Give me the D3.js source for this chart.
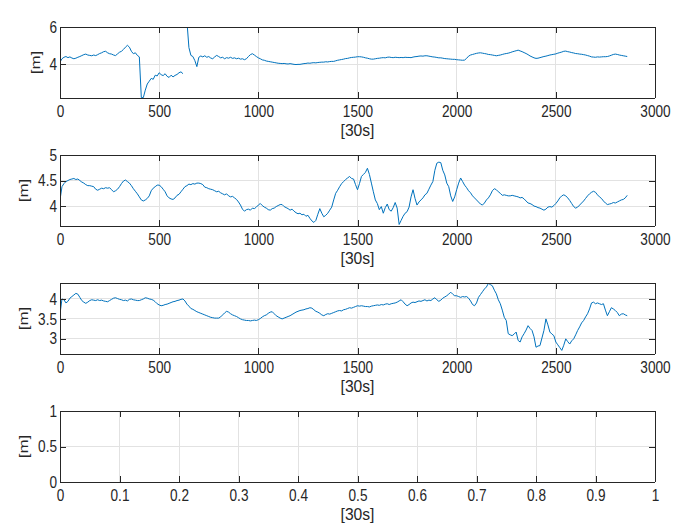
<!DOCTYPE html>
<html><head><meta charset="utf-8">
<script src="https://cdn.jsdelivr.net/npm/d3@7"></script>
<style>
body{margin:0;background:#fff}
svg{display:block}
text{font-family:"Liberation Sans",Arial,Helvetica,sans-serif;fill:#262626}
</style></head><body>
<svg id="c" width="679" height="532"></svg>
<script>
// ---------------- data ----------------
const xStep = 10; // sample spacing, in [30s] units
// panel 1 (rows of 10 samples = 100 units)
const series1 = [
 4.12,4.30,4.38,4.42,4.36,4.40,4.34,4.30,4.33,4.38,
 4.42,4.47,4.52,4.55,4.50,4.48,4.46,4.50,4.47,4.52,
 4.58,4.62,4.68,4.70,4.62,4.57,4.55,4.50,4.47,4.56,
 4.65,4.70,4.80,4.92,5.02,4.92,4.70,4.57,4.62,4.48,
 4.40,2.22,2.22,2.62,2.95,3.10,3.25,3.20,3.42,3.38,
 3.55,3.45,3.40,3.50,3.36,3.30,3.42,3.33,3.41,3.46,
 3.55,3.60,3.50,null,6.30,4.90,4.48,4.42,4.20,3.88,
 4.38,4.45,4.40,4.46,4.38,4.42,4.34,4.30,4.40,4.48,
 4.42,4.35,4.38,4.30,4.36,4.33,4.38,4.32,4.35,4.30,
 4.33,4.28,4.30,4.25,4.30,4.42,4.52,4.57,4.50,4.42,
 4.35,4.30,4.24,4.22,4.18,4.16,4.14,4.12,4.10,4.08,
 4.06,4.05,4.04,4.05,4.03,4.02,4.04,4.02,4.00,3.99,
 4.00,4.00,4.02,4.04,4.05,4.07,4.06,4.08,4.09,4.08,
 4.10,4.11,4.12,4.12,4.14,4.13,4.15,4.16,4.16,4.19,
 4.22,4.24,4.26,4.28,4.31,4.32,4.35,4.37,4.38,4.39,
 4.41,4.41,4.40,4.38,4.35,4.33,4.30,4.28,4.28,4.30,
 4.32,4.33,4.35,4.36,4.35,4.38,4.39,4.37,4.36,4.38,
 4.37,4.36,4.37,4.36,4.38,4.37,4.37,4.36,4.39,4.41,
 4.42,4.44,4.45,4.44,4.46,4.46,4.44,4.42,4.40,4.39,
 4.37,4.35,4.35,4.33,4.31,4.30,4.29,4.28,4.27,4.27,
 4.25,4.24,4.23,4.22,4.23,4.32,4.44,4.50,4.53,4.56,
 4.59,4.61,4.62,4.60,4.58,4.56,4.53,4.52,4.50,4.48,
 4.46,4.48,4.50,4.53,4.56,4.58,4.60,4.63,4.67,4.70,
 4.73,4.76,4.72,4.68,4.63,4.58,4.52,4.45,4.40,4.35,
 4.32,4.33,4.36,4.39,4.42,4.44,4.47,4.50,4.52,4.54,
 4.56,4.60,4.63,4.66,4.70,4.71,4.68,4.66,4.63,4.61,
 4.58,4.57,4.55,4.54,4.52,4.50,4.47,4.44,4.40,4.39,
 4.38,4.40,4.39,4.40,4.41,4.41,4.42,4.45,4.49,4.53,
 4.55,4.53,4.50,4.48,4.46,4.44,4.42
];
// panel 2
const series2 = [
 4.12,4.38,4.44,4.48,4.50,4.52,4.53,4.54,4.52,4.53,
 4.50,4.47,4.45,4.42,4.40,4.40,4.39,4.38,4.33,4.31,
 4.33,4.35,4.34,4.36,4.35,4.36,4.32,4.28,4.30,4.33,
 4.38,4.44,4.49,4.51,4.48,4.45,4.40,4.34,4.29,4.24,
 4.18,4.12,4.10,4.12,4.15,4.20,4.30,4.35,4.38,4.41,
 4.41,4.38,4.33,4.28,4.20,4.16,4.14,4.13,4.16,4.21,
 4.23,4.28,4.33,4.38,4.40,4.43,4.42,4.44,4.43,4.45,
 4.45,4.44,4.42,4.37,4.36,4.34,4.33,4.32,4.30,4.28,
 4.29,4.26,4.24,4.22,4.24,4.20,4.18,4.19,4.16,4.13,
 4.08,4.02,3.94,3.90,3.93,3.94,3.92,3.96,3.95,3.98,
 4.02,4.05,4.01,3.98,3.96,3.93,3.92,3.95,3.96,3.99,
 4.01,4.03,4.03,3.99,3.97,3.95,3.92,3.94,3.90,3.87,
 3.85,3.86,3.83,3.84,3.80,3.82,3.76,3.71,3.68,3.72,
 3.84,3.95,3.86,3.79,3.82,3.86,3.92,3.98,4.12,4.25,
 4.31,4.38,4.44,4.48,4.52,4.55,4.58,4.54,4.53,4.42,
 4.32,4.44,4.58,4.62,4.66,4.74,4.62,4.45,4.28,4.12,
 4.05,3.93,3.99,3.86,3.97,4.04,3.93,3.90,3.97,4.07,
 3.96,3.64,3.72,3.80,3.86,3.89,3.98,4.18,4.32,4.15,
 4.02,4.08,4.12,4.16,4.22,4.25,4.33,4.41,4.48,4.70,
 4.84,4.86,4.85,4.70,4.61,4.45,4.38,4.20,4.09,4.18,
 4.32,4.45,4.55,4.48,4.41,4.36,4.30,4.26,4.20,4.16,
 4.12,4.08,4.04,4.02,4.06,4.12,4.16,4.22,4.30,4.34,
 4.32,4.28,4.25,4.21,4.22,4.21,4.20,4.20,4.21,4.20,
 4.19,4.18,4.16,4.17,4.14,4.10,4.06,4.05,4.03,4.00,
 3.99,3.97,3.96,3.94,3.92,3.94,3.98,3.99,3.98,4.01,
 4.05,4.10,4.16,4.20,4.22,4.20,4.16,4.11,4.05,3.99,
 3.96,3.98,4.02,4.06,4.10,4.15,4.20,4.24,4.27,4.29,
 4.27,4.22,4.18,4.15,4.10,4.06,4.03,4.04,4.05,4.07,
 4.06,4.08,4.10,4.12,4.13,4.16,4.21
];
// panel 3
const series3 = [
 3.62,4.00,3.98,3.90,3.94,4.02,4.06,4.10,4.14,4.12,
 4.04,3.96,3.92,3.89,3.92,3.96,3.98,3.97,3.96,3.98,
 3.96,3.97,3.95,3.94,3.93,3.96,3.99,4.02,4.03,4.01,
 3.99,3.98,3.96,3.97,3.95,3.99,4.00,3.98,3.97,3.96,
 3.96,3.98,4.00,4.03,4.02,4.00,3.99,3.97,3.93,3.88,
 3.85,3.83,3.84,3.86,3.87,3.89,3.91,3.93,3.94,3.96,
 3.97,3.99,4.00,3.95,3.87,3.82,3.76,3.74,3.71,3.68,
 3.66,3.64,3.62,3.60,3.58,3.56,3.54,3.53,3.52,3.52,
 3.52,3.55,3.60,3.65,3.69,3.67,3.63,3.60,3.58,3.56,
 3.53,3.50,3.48,3.47,3.46,3.46,3.45,3.46,3.47,3.46,
 3.48,3.51,3.55,3.58,3.60,3.64,3.67,3.68,3.63,3.58,
 3.55,3.52,3.50,3.52,3.54,3.56,3.58,3.61,3.64,3.67,
 3.69,3.71,3.72,3.73,3.75,3.76,3.78,3.77,3.73,3.69,
 3.67,3.64,3.60,3.58,3.61,3.63,3.62,3.64,3.66,3.68,
 3.70,3.71,3.70,3.73,3.74,3.76,3.78,3.77,3.79,3.81,
 3.83,3.82,3.83,3.82,3.81,3.81,3.80,3.82,3.83,3.84,
 3.85,3.84,3.86,3.85,3.87,3.88,3.86,3.88,3.89,3.90,
 3.92,3.95,3.98,3.93,3.87,3.83,3.86,3.90,3.92,3.91,
 3.93,3.95,3.94,3.96,3.98,3.95,3.97,3.96,4.00,4.03,
 3.98,3.94,3.97,4.02,4.05,4.08,4.12,4.17,4.12,4.08,
 4.08,4.06,4.04,4.06,4.05,4.06,4.02,3.95,3.86,3.83,
 3.90,4.04,4.11,4.18,4.25,4.30,4.39,4.36,4.33,4.22,
 4.13,3.98,3.88,3.72,3.54,3.46,3.13,3.10,3.08,3.12,
 3.17,2.96,2.92,3.05,3.13,3.22,3.33,3.26,3.21,3.05,
 2.79,2.82,2.83,3.02,3.21,3.50,3.35,3.17,3.12,3.08,
 2.92,2.85,2.78,2.71,2.84,3.00,2.93,2.87,2.95,3.00,
 3.10,3.21,3.30,3.40,3.46,3.55,3.63,3.75,3.90,3.92,
 3.88,3.90,3.88,3.86,3.88,3.72,3.58,3.68,3.78,3.75,
 3.71,3.66,3.58,3.62,3.63,3.60,3.58
];
const xTicksMain = [0,500,1000,1500,2000,2500,3000];
const xTicksEmpty = [0,0.1,0.2,0.3,0.4,0.5,0.6,0.7,0.8,0.9,1];
const yTicks1 = [2,4,6];
const yTicks2 = [4,4.5,5];
const yTicks3 = [3,3.5,4];
const yTicks4 = [0,0.5,1];
const xLabel = "[30s]";
const yLabel = "[m]";

// ---------------- layout ----------------
const L = 60, R = 655, PH = 71;
const tops = [27,155,283,411];
const FONT = 16, SQ = 0.85, LFONT = 17, LSQ = 0.92;
const lineColor = "#0072BD", axisColor = "#262626", gridColor = "#e2e2e2";

const panels = [
 {values: series1, xDomain:[0,3000], yDomain:[2.2,6],    xTicks:xTicksMain,  yTicks:yTicks1},
 {values: series2, xDomain:[0,3000], yDomain:[3.61,5],   xTicks:xTicksMain,  yTicks:yTicks2},
 {values: series3, xDomain:[0,3000], yDomain:[2.62,4.4], xTicks:xTicksMain,  yTicks:yTicks3},
 {values: null,    xDomain:[0,1],    yDomain:[0,1],      xTicks:xTicksEmpty, yTicks:yTicks4}
];

const svg = d3.select("#c");
const fmt = d3.format("~g");

function squeeze(sel, f){
  sel.each(function(){
    const w = this.getComputedTextLength();
    d3.select(this).attr("textLength", w*f).attr("lengthAdjust","spacingAndGlyphs");
  });
}

panels.forEach((p, k) => {
  const top = tops[k], bot = top + PH;
  const x = d3.scaleLinear().domain(p.xDomain).range([L, R]);
  const y = d3.scaleLinear().domain(p.yDomain).range([bot, top]);
  const xt = p.xTicks.filter(d => d >= p.xDomain[0] - 1e-9 && d <= p.xDomain[1] + 1e-9);
  const yt = p.yTicks.filter(d => d >= p.yDomain[0] - 1e-9 && d <= p.yDomain[1] + 1e-9);
  const g = svg.append("g");

  // grid
  g.append("g").selectAll("line").data(xt).join("line")
    .attr("x1", d => x(d)).attr("x2", d => x(d)).attr("y1", top).attr("y2", bot)
    .attr("stroke", gridColor).attr("stroke-width", 1).attr("shape-rendering","crispEdges");
  g.append("g").selectAll("line").data(yt).join("line")
    .attr("x1", L).attr("x2", R).attr("y1", d => y(d)).attr("y2", d => y(d))
    .attr("stroke", gridColor).attr("stroke-width", 1).attr("shape-rendering","crispEdges");

  // data line
  if (p.values) {
    const cid = "clip" + k;
    svg.append("clipPath").attr("id", cid).append("rect")
      .attr("x", L).attr("y", top).attr("width", R - L).attr("height", PH);
    const line = d3.line()
      .defined(d => d != null)
      .x((d, i) => x(i * xStep))
      .y(d => y(d));
    g.append("path").datum(p.values)
      .attr("clip-path", `url(#${cid})`)
      .attr("fill", "none").attr("stroke", lineColor).attr("stroke-width", 1)
      .attr("stroke-linejoin","round")
      .attr("d", line);
  }

  // axes (box with inward ticks on all sides)
  const styleAxis = a => {
    a.select(".domain").attr("stroke", axisColor).attr("shape-rendering","crispEdges");
    a.selectAll(".tick line").attr("stroke", axisColor).attr("shape-rendering","crispEdges");
    a.selectAll("text").attr("fill", axisColor).style("font-size", FONT + "px");
  };
  const ab = g.append("g").attr("transform", `translate(0,${bot})`)
    .call(d3.axisBottom(x).tickValues(xt).tickSizeInner(-6).tickSizeOuter(0).tickPadding(8).tickFormat(fmt));
  const at = g.append("g").attr("transform", `translate(0,${top})`)
    .call(d3.axisTop(x).tickValues(xt).tickSizeInner(-6).tickSizeOuter(0).tickFormat(""));
  const al = g.append("g").attr("transform", `translate(${L},0)`)
    .call(d3.axisLeft(y).tickValues(yt).tickSizeInner(-6).tickSizeOuter(0).tickPadding(3).tickFormat(fmt));
  const ar = g.append("g").attr("transform", `translate(${R},0)`)
    .call(d3.axisRight(y).tickValues(yt).tickSizeInner(-6).tickSizeOuter(0).tickFormat(""));
  [ab, at, al, ar].forEach(a => { a.attr("font-family", null).attr("font-size", null); styleAxis(a); });
  ab.select(".domain").attr("d", `M${L},0H${R}`);
  at.select(".domain").attr("d", `M${L},0H${R}`);
  al.select(".domain").attr("d", `M0,${top}V${bot}`);
  ar.select(".domain").attr("d", `M0,${top}V${bot}`);
  squeeze(ab.selectAll("text"), SQ);
  squeeze(al.selectAll("text"), SQ);

  // x label
  const xl = g.append("text").attr("x", (L + R) / 2).attr("y", bot + 38)
    .attr("text-anchor", "middle").style("font-size", LFONT + "px").text(xLabel);
  squeeze(xl, LSQ);

  // y label, placed left of the tick labels
  let minX = L;
  al.selectAll("text").each(function(){ const b = this.getBBox(); minX = Math.min(minX, L + b.x); });
  const cx = minX - 7 - 0.21 * LFONT * 0.75;
  g.append("text")
    .attr("transform", `translate(${cx},${(top + bot) / 2}) rotate(-90) scale(1,0.75)`)
    .attr("text-anchor", "middle").style("font-size", LFONT + "px").text(yLabel);
});
</script>
</body></html>
